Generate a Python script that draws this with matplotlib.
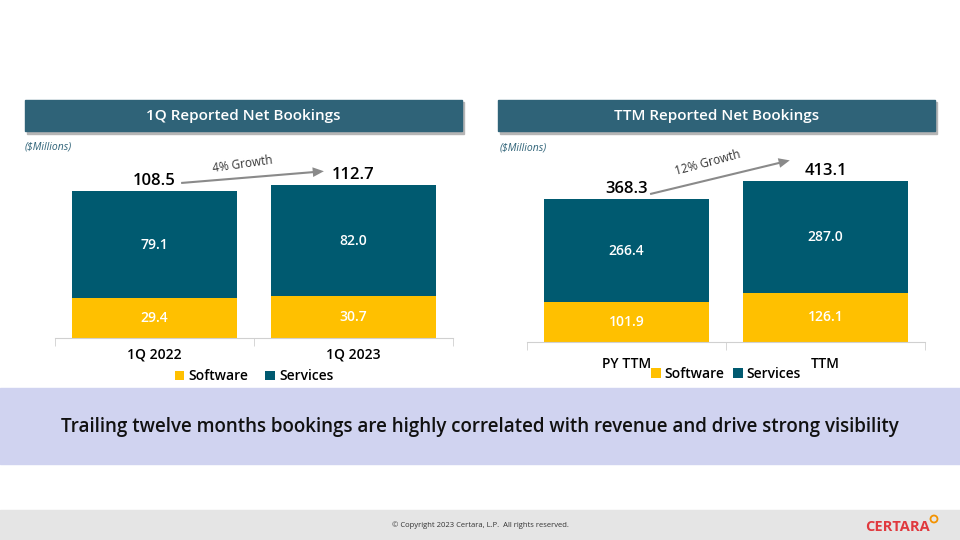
import matplotlib.pyplot as plt
from matplotlib.patches import Rectangle, Ellipse

plt.rcParams['font.family'] = ['Open Sans', 'DejaVu Sans']

# data ($ millions)
q_labels = ['1Q 2022', '1Q 2023']
q_software = [29.4, 30.7]
q_services = [79.1, 82.0]
q_totals = [108.5, 112.7]

ttm_labels = ['PY TTM', 'TTM']
ttm_software = [101.9, 126.1]
ttm_services = [266.4, 287.0]
ttm_totals = [368.3, 413.1]

SOFT = '#FFC000'
SERV = '#005A70'
HEAD = '#2F6378'

W, H = 960, 540
fig = plt.figure(figsize=(9.6, 5.4), dpi=100)


def fx(px):
    return px / W


def fy(py):
    return 1 - py / H


def header(x0, x1, title):
    # shadow then box
    fig.patches.append(Rectangle((fx(x0 + 2), fy(134)), fx(x1 - x0), (31 + 1) / H,
                                 transform=fig.transFigure, color='#b5b5b5', zorder=0))
    fig.patches.append(Rectangle((fx(x0), fy(131)), fx(x1 - x0), 31 / H,
                                 transform=fig.transFigure, color=HEAD, zorder=1))
    fig.text(fx((x0 + x1) / 2), fy(116), title, color='white', fontsize=11,
             fontweight='semibold', ha='center', va='center')


def stacked(ax, labels, soft, serv, totals, ymax):
    x = range(len(labels))
    ax.bar(x, soft, width=0.83, color=SOFT, label='Software', zorder=2)
    ax.bar(x, serv, width=0.83, bottom=soft, color=SERV, label='Services', zorder=2)
    for i in x:
        ax.text(i, soft[i] / 2, f'{soft[i]:.1f}', color='white', ha='center', va='center',
                fontsize=10, fontweight='semibold')
        ax.text(i, soft[i] + serv[i] / 2, f'{serv[i]:.1f}', color='white', ha='center',
                va='center', fontsize=10, fontweight='semibold')
        ax.annotate(f'{totals[i]:.1f}', (i, totals[i]), xytext=(0, 1.5), textcoords='offset points',
                    ha='center', va='bottom', fontsize=12, fontweight='semibold')
    ax.set_xlim(-0.5, len(labels) - 0.5)
    ax.set_ylim(0, ymax)
    for s in ['top', 'right', 'left']:
        ax.spines[s].set_visible(False)
    ax.spines['bottom'].set_color('#d0d0d0')
    ax.set_yticks([])
    ax.set_xticks([-0.5, 0.5, 1.5], minor=True)
    ax.tick_params(axis='x', which='minor', length=6, color='#d0d0d0', direction='out')
    ax.set_xticks([])
    ax.patch.set_alpha(0)


# left panel
header(25, 462, '1Q Reported Net Bookings')
fig.text(fx(25), fy(147), '($Millions)', color=HEAD, fontsize=7.5, style='italic', va='center')
ax1 = fig.add_axes([fx(55), fy(338), fx(453 - 55), (338 - 150) / H])
stacked(ax1, q_labels, q_software, q_services, q_totals, 138.7)
for i, lab in enumerate(q_labels):
    ax1.annotate(lab, (i, 0), xytext=(0, -7), textcoords='offset points', ha='center',
                 va='top', fontsize=10, fontweight='semibold')
ax1.annotate('', xy=(0.865, 123.2), xytext=(0.12, 114.2),
             arrowprops=dict(arrowstyle='simple,head_width=0.7,head_length=0.8,tail_width=0.15',
                             color='#8a8a8a', lw=0))
ax1.text(0.44, 128.5, '4% Growth', rotation=8, ha='center', va='center', fontsize=8.5,
         color='#333333')
ax1.legend(loc='upper center', bbox_to_anchor=(0.5, -0.10), ncol=2, frameon=False,
           handlelength=0.7, handleheight=0.7, columnspacing=1.2,
           handletextpad=0.3, prop={'weight': 'semibold', 'size': 10})

# right panel
header(498, 935, 'TTM Reported Net Bookings')
fig.text(fx(500), fy(148), '($Millions)', color=HEAD, fontsize=7.5, style='italic', va='center')
ax2 = fig.add_axes([fx(527), fy(342), fx(925 - 527), (342 - 150) / H])
stacked(ax2, ttm_labels, ttm_software, ttm_services, ttm_totals, 494)
for i, lab in enumerate(ttm_labels):
    ax2.annotate(lab, (i, 0), xytext=(0, -11), textcoords='offset points', ha='center',
                 va='top', fontsize=10, fontweight='semibold')
ax2.annotate('', xy=(0.834, 469), xytext=(0.105, 379),
             arrowprops=dict(arrowstyle='simple,head_width=0.7,head_length=0.8,tail_width=0.15',
                             color='#8a8a8a', lw=0))
ax2.text(0.41, 460, '12% Growth', rotation=15, ha='center', va='center', fontsize=8.5,
         color='#333333')
ax2.legend(loc='upper center', bbox_to_anchor=(0.5, -0.065), ncol=2, frameon=False,
           handlelength=0.7, handleheight=0.7, columnspacing=0.6,
           handletextpad=0.3, prop={'weight': 'semibold', 'size': 10})

# banner
fig.patches.append(Rectangle((0, fy(464)), 1, (464 - 388) / H, transform=fig.transFigure,
                             color='#D0D3F0', zorder=0))
fig.text(0.5, fy(427), 'Trailing twelve months bookings are highly correlated with revenue and drive strong visibility',
         ha='center', va='center', fontsize=13.5, fontweight='semibold', color='#111111')

# footer
fig.patches.append(Rectangle((0, 0), 1, 30 / H, transform=fig.transFigure, color='#E5E5E5', zorder=0))
fig.text(fx(480), fy(525), '\u00a9 Copyright 2023 Certara, L.P.  All rights reserved.',
         ha='center', va='center', fontsize=5.5, color='#333333')
fig.text(fx(898), fy(527), 'CERTARA', ha='center', va='center', fontsize=10.5,
         fontweight='bold', color='#E0393E')
fig.patches.append(Ellipse((fx(934), fy(519)), fx(7), 7 / H, transform=fig.transFigure,
                           fill=False, ec='#F39200', lw=1.3))

fig.savefig('out.png', dpi=100)
